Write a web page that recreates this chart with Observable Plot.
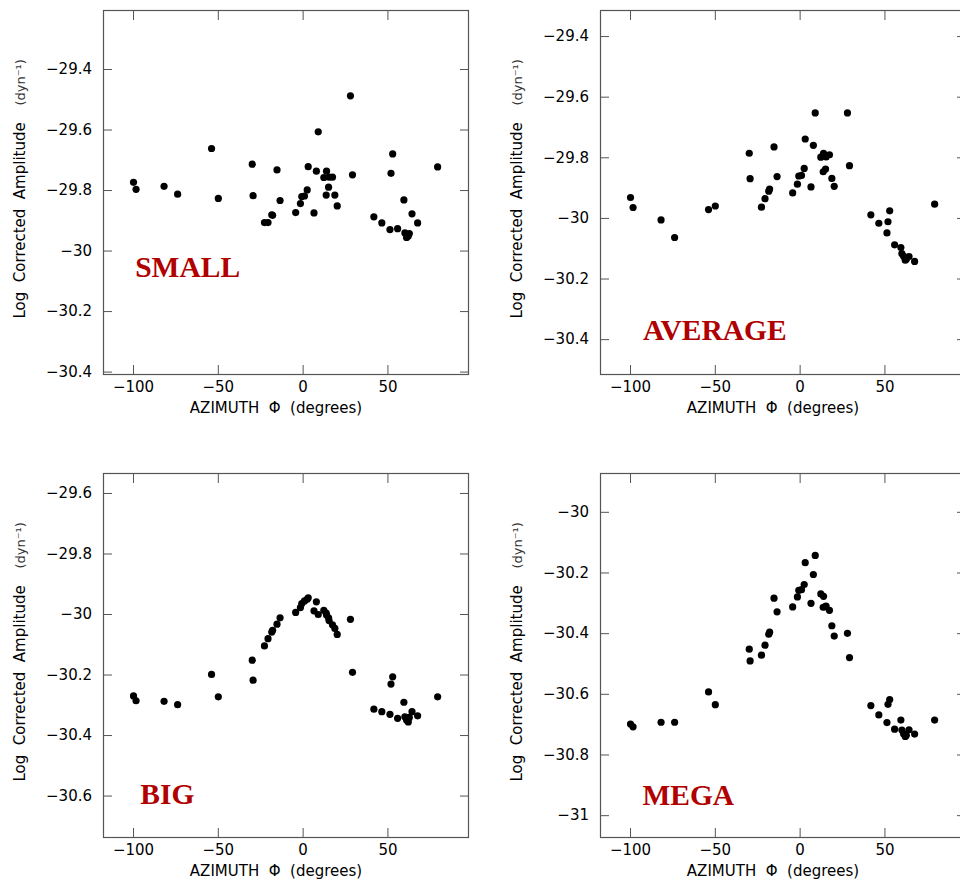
<!DOCTYPE html>
<html><head><meta charset="utf-8">
<script src="https://cdn.jsdelivr.net/npm/d3@7"></script>
<script src="https://cdn.jsdelivr.net/npm/@observablehq/plot@0.6"></script>
<style>
html,body{margin:0;padding:0;background:#fff;overflow:hidden;}
#wrap{position:relative;width:960px;height:884px;overflow:hidden;background:#fff;}
.panel{position:absolute;width:497px;}
.panel svg{max-width:none !important;width:497px;}
</style></head><body><div id="wrap"></div>
<script>
// ---- data ----
const azimuth = [-100, -98.5, -82, -74, -54, -50, -30, -29.5, -22.8, -20.7, -18.5, -18.0, -15.4, -13.6, -4.4, -1.6, -0.8, 0.8, 2.4, 3.0, 6.4, 7.8, 8.9, 12.2, 13.6, 13.8, 15.0, 15.3, 17.3, 18.7, 20.1, 27.9, 29.1, 41.7, 46.4, 51.2, 51.8, 52.8, 55.7, 59.4, 60.0, 61.0, 62.0, 62.6, 64.2, 67.5, 79.3];

const ampSmall = [-29.773, -29.796, -29.786, -29.812, -29.661, -29.826, -29.713, -29.817, -29.906, -29.906,
  -29.880, -29.882, -29.732, -29.833, -29.873, -29.843, -29.820, -29.818, -29.798, -29.721,
  -29.874, -29.736, -29.606, -29.757, -29.815, -29.736, -29.789, -29.756, -29.756, -29.815,
  -29.851, -29.487, -29.748, -29.887, -29.907, -29.929, -29.743, -29.679, -29.926, -29.831,
  -29.940, -29.955, -29.950, -29.942, -29.877, -29.907, -29.722];

const ampAverage = [-29.931, -29.964, -30.005, -30.063, -29.971, -29.959, -29.785, -29.869, -29.963, -29.935,
  -29.910, -29.903, -29.764, -29.862, -29.916, -29.887, -29.860, -29.858, -29.835, -29.738,
  -29.896, -29.759, -29.652, -29.798, -29.846, -29.785, -29.837, -29.797, -29.790, -29.868,
  -29.894, -29.652, -29.826, -29.988, -30.016, -30.048, -30.011, -29.975, -30.087, -30.096,
  -30.116, -30.125, -30.138, -30.135, -30.126, -30.142, -29.953];

const ampBig = [-30.269, -30.285, -30.287, -30.298, -30.198, -30.272, -30.151, -30.217, -30.104, -30.080,
  -30.058, -30.052, -30.032, -30.011, -29.993, -29.977, -29.964, -29.955, -29.950, -29.945,
  -29.988, -29.958, -30.000, -29.986, -29.995, -30.002, -30.011, -30.020, -30.034, -30.046,
  -30.066, -30.016, -30.191, -30.313, -30.321, -30.330, -30.230, -30.206, -30.343, -30.290,
  -30.338, -30.349, -30.355, -30.340, -30.321, -30.335, -30.272];

const ampMega = [-30.698, -30.707, -30.692, -30.692, -30.592, -30.634, -30.451, -30.490, -30.471, -30.438,
  -30.402, -30.395, -30.283, -30.328, -30.312, -30.279, -30.257, -30.255, -30.238, -30.166,
  -30.300, -30.205, -30.142, -30.269, -30.313, -30.277, -30.311, -30.309, -30.323, -30.374,
  -30.408, -30.399, -30.479, -30.637, -30.668, -30.693, -30.633, -30.617, -30.715, -30.685,
  -30.718, -30.730, -30.739, -30.735, -30.717, -30.731, -30.685];

const panelNames = ["SMALL", "AVERAGE", "BIG", "MEGA"];
const xTicks = [-100, -50, 0, 50];
const yTicksSmall = [-29.4, -29.6, -29.8, -30, -30.2, -30.4];
const yTicksAverage = [-29.4, -29.6, -29.8, -30, -30.2, -30.4];
const yTicksBig = [-29.6, -29.8, -30, -30.2, -30.4, -30.6];
const yTicksMega = [-30, -30.2, -30.4, -30.6, -30.8, -31];

const xLabel = "AZIMUTH  \u03A6  (degrees)";
const yLabel = "Log  Corrected  Amplitude";
const yUnit = "(dyn\u207B\u00B9)";

// ---- chart settings ----
const xDomain = [-117.7, 97.5];
const yDomains = [[-30.408, -29.205], [-30.515, -29.314], [-30.737, -29.534], [-31.072, -29.872]];
const namePos = [[-99, -30.087], [-92.7, -30.402], [-96, -30.625], [-93, -30.965]];
const amps = [ampSmall, ampAverage, ampBig, ampMega];
const yTicks = [yTicksSmall, yTicksAverage, yTicksBig, yTicksMega];
const fmt = d3.format("");
const ink = "#555";

function panel(i) {
  const data = azimuth.map((a, j) => ({az: a, amp: amps[i][j]}));
  const topRow = i < 2;
  const H = topRow ? 440 : 444;
  const mt = topRow ? 10 : 33;
  const mb = H - mt - 364;
  return Plot.plot({
    width: 497, height: H,
    marginLeft: 103, marginRight: 29, marginTop: mt, marginBottom: mb,
    style: {fontFamily: "DejaVu Sans", fontSize: "15px", color: "#000", background: "transparent", overflow: "visible", maxWidth: "none"},
    x: {domain: xDomain, axis: null},
    y: {domain: yDomains[i], axis: null},
    marks: [
      Plot.frame({stroke: ink, strokeWidth: 1.2}),
      Plot.axisX({ticks: xTicks, anchor: "bottom", tickSize: -9, tickPadding: 16, tickFormat: fmt, label: null, stroke: ink, fill: "#000", fontSize: 15}),
      Plot.axisX({ticks: xTicks, anchor: "top", tickSize: -9, tickFormat: () => "", label: null, stroke: ink}),
      Plot.axisY({ticks: yTicks[i], anchor: "left", tickSize: -9, tickPadding: 20.5, tickFormat: fmt, label: null, stroke: ink, fill: "#000", fontSize: 15}),
      Plot.axisY({ticks: yTicks[i], anchor: "right", tickSize: -9, tickFormat: () => "", label: null, stroke: ink}),
      Plot.text([xLabel], {frameAnchor: "bottom", dy: 33.5, dx: -10, lineAnchor: "middle", fontSize: 15, fill: "#000"}),
      Plot.text([yLabel], {frameAnchor: "left", rotate: -90, textAnchor: "start", lineAnchor: "middle", dx: -83, dy: 126, fontSize: 15, fill: "#000"}),
      Plot.text([yUnit], {frameAnchor: "left", rotate: -90, textAnchor: "start", lineAnchor: "middle", dx: -83, dy: -87, fontSize: 13, fill: "#333"}),
      Plot.dot(data, {x: "az", y: "amp", r: 3.6, fill: "#000", stroke: null}),
      Plot.text([panelNames[i]], {x: () => namePos[i][0], y: () => namePos[i][1], textAnchor: "start", lineAnchor: "bottom",
        fontFamily: "Liberation Serif", fontWeight: "bold", fontSize: 29.5, fill: "#b00000"})
    ]
  });
}

const wrap = document.getElementById("wrap");
const offsets = [[0, 0], [497, 0], [0, 440], [497, 440]];
for (let i = 0; i < 4; i++) {
  const div = document.createElement("div");
  div.className = "panel";
  div.style.left = offsets[i][0] + "px";
  div.style.top = offsets[i][1] + "px";
  div.appendChild(panel(i));
  wrap.appendChild(div);
}
</script></body></html>
